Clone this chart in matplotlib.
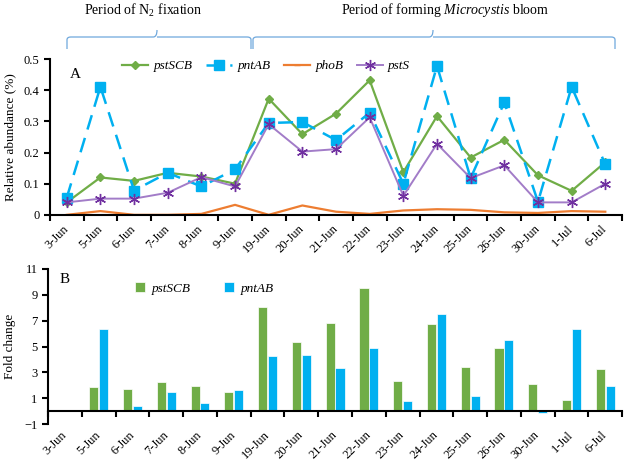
import matplotlib.pyplot as plt
import numpy as np
from matplotlib.path import Path as MPath
from matplotlib.patches import PathPatch

plt.rcParams['font.family'] = ['Liberation Serif', 'DejaVu Serif']
plt.rcParams['mathtext.fontset'] = 'custom'
plt.rcParams['mathtext.rm'] = 'Liberation Serif'
plt.rcParams['mathtext.it'] = 'Liberation Serif:italic'

dates = ["3-Jun", "5-Jun", "6-Jun", "7-Jun", "8-Jun", "9-Jun", "19-Jun", "20-Jun",
         "21-Jun", "22-Jun", "23-Jun", "24-Jun", "25-Jun", "26-Jun", "30-Jun", "1-Jul", "6-Jul"]

# panel A, relative abundance (%)
pstSCB = [0.040, 0.120, 0.109, 0.135, 0.123, 0.100, 0.373, 0.259, 0.325, 0.432,
          0.137, 0.317, 0.184, 0.241, 0.127, 0.077, 0.169]
pntAB = [0.055, 0.411, 0.078, 0.135, 0.091, 0.146, 0.295, 0.298, 0.240, 0.328,
         0.100, 0.478, 0.118, 0.361, 0.042, 0.411, 0.162]
phoB = [0.000, 0.012, 0.000, 0.000, 0.003, 0.032, 0.000, 0.030, 0.010, 0.003,
        0.014, 0.018, 0.016, 0.008, 0.006, 0.012, 0.010]
pstS = [0.040, 0.052, 0.052, 0.071, 0.121, 0.091, 0.291, 0.203, 0.211, 0.313,
        0.061, 0.228, 0.118, 0.159, 0.040, 0.040, 0.100]

# panel B, fold change
fc_pstSCB = [0, 1.9, 1.68, 2.28, 1.94, 1.5, 8.04, 5.33, 6.85, 9.49, 2.33, 6.72,
             3.44, 4.86, 2.07, 0.85, 3.23]
fc_pntAB = [0, 6.34, 0.41, 1.45, 0.6, 1.63, 4.29, 4.34, 3.31, 4.86, 0.8, 7.55,
            1.16, 5.48, -0.15, 6.39, 1.91]

green = "#70AD47"
blue = "#00B0F0"
orange = "#ED7D31"
purple = "#A27CC8"
brace_col = "#6FA8DC"

x = np.arange(len(dates))

fig = plt.figure(figsize=(6.24, 4.62), dpi=100)

# ---- panel A ----
ax1 = fig.add_axes([0.080, 0.535, 0.917, 0.337])
ax1.plot(x, pstSCB, color=green, lw=1.6, marker="D", ms=4, label="pstSCB")
ax1.plot(x, pntAB, color=blue, lw=1.8, ls=(0, (6, 3.5)), marker="s", ms=6.5, label="pntAB")
ax1.plot(x, phoB, color=orange, lw=1.6, marker="_", ms=5, markevery=[], label="phoB")
ax1.plot(x, pstS, color=purple, lw=1.4, marker=(6, 2, 0), ms=8, mec="#7030A0",
         mew=1.0, label="pstS")
ax1.set_xlim(-0.5, len(dates) - 0.5)
ax1.set_ylim(0, 0.5)
ax1.set_yticks([0, 0.1, 0.2, 0.3, 0.4, 0.5])
ax1.set_yticklabels(["0", "0.1", "0.2", "0.3", "0.4", "0.5"])
ax1.set_xticks(x)
ax1.set_xticklabels(dates, rotation=45, ha="right", va="center", rotation_mode="anchor")
ax1.set_xticks(np.arange(len(dates) + 1) - 0.5, minor=True)
ax1.tick_params(axis="x", which="major", length=0, pad=9, labelsize=9)
ax1.tick_params(axis="x", which="minor", length=4, width=1.5, direction="out")
ax1.tick_params(axis="y", length=4, width=1.5, labelsize=9)
ax1.set_ylabel("Relative abundance (%)", fontsize=9.5)
ax1.yaxis.set_label_coords(-0.058, 0.5)
for s in ["top", "right"]:
    ax1.spines[s].set_visible(False)
for s in ["left", "bottom"]:
    ax1.spines[s].set_linewidth(1.5)
ax1.text(0.035, 0.88, "A", transform=ax1.transAxes, fontsize=11)
ax1.legend(loc="upper left", bbox_to_anchor=(0.105, 1.07), ncol=4, frameon=False,
           handlelength=2.0, columnspacing=1.0, handletextpad=0.4,
           prop={"style": "italic", "size": 9.5})

# ---- panel B ----
ax2 = fig.add_axes([0.077, 0.082, 0.920, 0.336])
w = 0.27
ax2.bar(x - 0.145, fc_pstSCB, width=w, color=green, edgecolor="white", lw=0.5, label="pstSCB")
ax2.bar(x + 0.145, fc_pntAB, width=w, color=blue, edgecolor="white", lw=0.5, label="pntAB")
ax2.set_xlim(-0.5, len(dates) - 0.5)
ax2.set_ylim(-1, 11)
ax2.set_yticks([-1, 1, 3, 5, 7, 9, 11])
ax2.spines["bottom"].set_position(("data", 0))
ax2.set_xticks(x)
ax2.set_xticklabels(dates, rotation=45, ha="right", va="center", rotation_mode="anchor")
ax2.set_xticks(np.arange(len(dates) + 1) - 0.5, minor=True)
ax2.tick_params(axis="x", which="major", length=0, pad=16, labelsize=9)
ax2.tick_params(axis="x", which="minor", length=4, width=1.5, direction="out")
ax2.tick_params(axis="y", length=4, width=1.5, labelsize=9)
ax2.set_ylabel("Fold change", fontsize=9.5)
ax2.yaxis.set_label_coords(-0.055, 0.5)
for s in ["top", "right"]:
    ax2.spines[s].set_visible(False)
for s in ["left", "bottom"]:
    ax2.spines[s].set_linewidth(1.5)
ax2.text(0.02, 0.91, "B", transform=ax2.transAxes, fontsize=11)
ax2.legend(loc="upper left", bbox_to_anchor=(0.13, 0.99), ncol=2, frameon=False,
           handlelength=0.8, handleheight=0.8, columnspacing=2.5, handletextpad=0.5,
           prop={"style": "italic", "size": 9.5})

# ---- braces and period labels ----
def brace(x0, x1, xm, ytop, ymid, ybot):
    r = 0.006
    verts = [(x0, ybot), (x0, ymid - r), (x0, ymid), (x0 + r, ymid),
             (xm - r, ymid), (xm, ymid), (xm, ytop),
             (xm, ymid), (xm + r, ymid),
             (x1 - r, ymid), (x1, ymid), (x1, ymid - r), (x1, ybot)]
    codes = [MPath.MOVETO, MPath.LINETO, MPath.CURVE3, MPath.CURVE3,
             MPath.LINETO, MPath.CURVE3, MPath.CURVE3,
             MPath.MOVETO, MPath.LINETO,
             MPath.LINETO, MPath.CURVE3, MPath.CURVE3, MPath.LINETO]
    fig.patches.append(PathPatch(MPath(verts, codes), transform=fig.transFigure,
                                 fill=False, ec=brace_col, lw=0.9))

brace(67 / 624, 251 / 624, 157 / 624, 1 - 30 / 462, 1 - 37 / 462, 1 - 49 / 462)
brace(253 / 624, 615 / 624, 433 / 624, 1 - 30 / 462, 1 - 37 / 462, 1 - 49 / 462)
fig.text(143 / 624, 1 - 10 / 462, "Period of N$_2$ fixation", ha="center", va="center",
         fontsize=10)
fig.text(445 / 624, 1 - 10 / 462, "Period of forming $\\it{Microcystis}$ bloom",
         ha="center", va="center", fontsize=10)

fig.savefig("out.png", dpi=100)
